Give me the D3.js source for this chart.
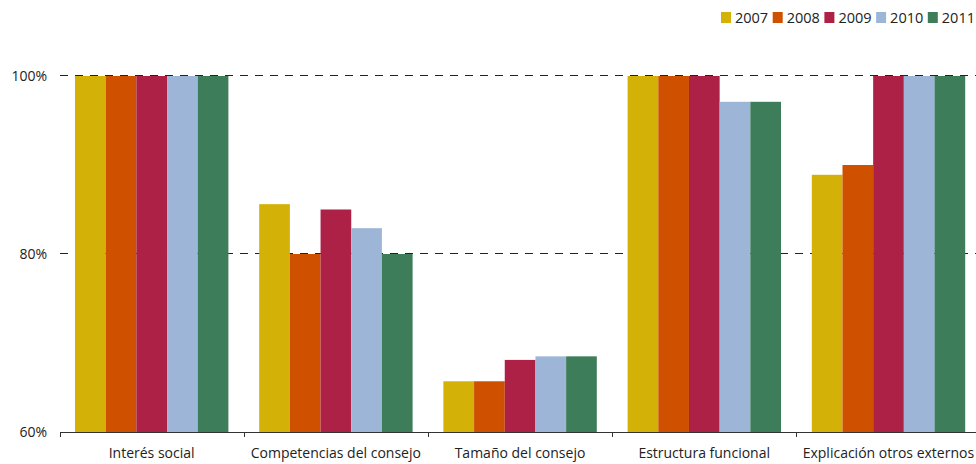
<!DOCTYPE html>
<html><head><meta charset="utf-8">
<script src="https://cdn.jsdelivr.net/npm/d3@7"></script>
<style>body{margin:0;background:#fff}svg{display:block;font-family:"Open Sans",sans-serif}</style>
</head><body>
<script>
const categories = ["Interés social","Competencias del consejo","Tamaño del consejo","Estructura funcional","Explicación otros externos"];
const years = ["2007","2008","2009","2010","2011"];
const s2007 = [100, 85.6, 65.7, 100, 88.9];
const s2008 = [100, 80, 65.7, 100, 90];
const s2009 = [100, 85, 68.1, 100, 100];
const s2010 = [100, 82.9, 68.5, 97.1, 100];
const s2011 = [100, 80, 68.5, 97.1, 100];
const yTicks = [60, 80, 100];
const colors = ["#d4b106","#cf5100","#ae2146","#9db6d8","#3e7d5a"];

const series = [s2007,s2008,s2009,s2010,s2011];
const W = 976, H = 464;
const svg = d3.select("body").append("svg").attr("width",W).attr("height",H);

const x0 = d3.scaleBand().domain(categories).range([59.5, 980.5]).paddingInner(0).paddingOuter(0);
const x1 = d3.scaleBand().domain(years).range([15.5, x0.bandwidth()-15.3]).padding(0);
const y = d3.scaleLinear().domain([60,100]).range([432, 76]);

// gridlines
svg.append("g").selectAll("line").data(yTicks.filter(t=>t>60)).join("line")
  .attr("x1",60).attr("x2",978).attr("y1",d=>y(d)-0.5).attr("y2",d=>y(d)-0.5)
  .attr("stroke","#222").attr("stroke-width",1.2).attr("stroke-dasharray","8,7");

// bars
const g = svg.append("g");
categories.forEach((c,i)=>{
  years.forEach((yr,j)=>{
    g.append("rect")
      .attr("x", x0(c)+x1(yr))
      .attr("width", x1.bandwidth())
      .attr("y", y(series[j][i]))
      .attr("height", y(60)-y(series[j][i]))
      .attr("fill", colors[j]);
  });
});

// y axis labels
svg.append("g").selectAll("text").data(yTicks).join("text")
  .attr("x",47).attr("y",d=>y(d)+5).attr("text-anchor","end")
  .attr("font-size",14).attr("fill","#222").text(d=>d+"%");

// x axis
const xa = svg.append("g").attr("transform","translate(0,432)");
xa.append("line").attr("x1",60).attr("x2",976).attr("y1",0.5).attr("y2",0.5).attr("stroke","#333").attr("stroke-width",1);
xa.selectAll("line.t").data(d3.range(0,5)).join("line").attr("class","t")
  .attr("x1",i=>Math.round(x0.range()[0]+i*x0.step())+0.5).attr("x2",i=>Math.round(x0.range()[0]+i*x0.step())+0.5)
  .attr("y1",0).attr("y2",5).attr("stroke","#333");
xa.selectAll("text").data(categories).join("text")
  .attr("x",d=>x0(d)+x0.bandwidth()/2).attr("y",26).attr("text-anchor","middle")
  .attr("font-size",14).attr("fill","#222").text(d=>d);

// legend
const lg = svg.append("g");
years.forEach((yr,j)=>{
  const lx = 721 + j*51.7;
  lg.append("rect").attr("x",lx).attr("y",12).attr("width",10).attr("height",11).attr("fill",colors[j]);
  lg.append("text").attr("x",lx+14).attr("y",23).attr("font-size",14.5).attr("fill","#222").text(yr);
});
</script>
</body></html>
